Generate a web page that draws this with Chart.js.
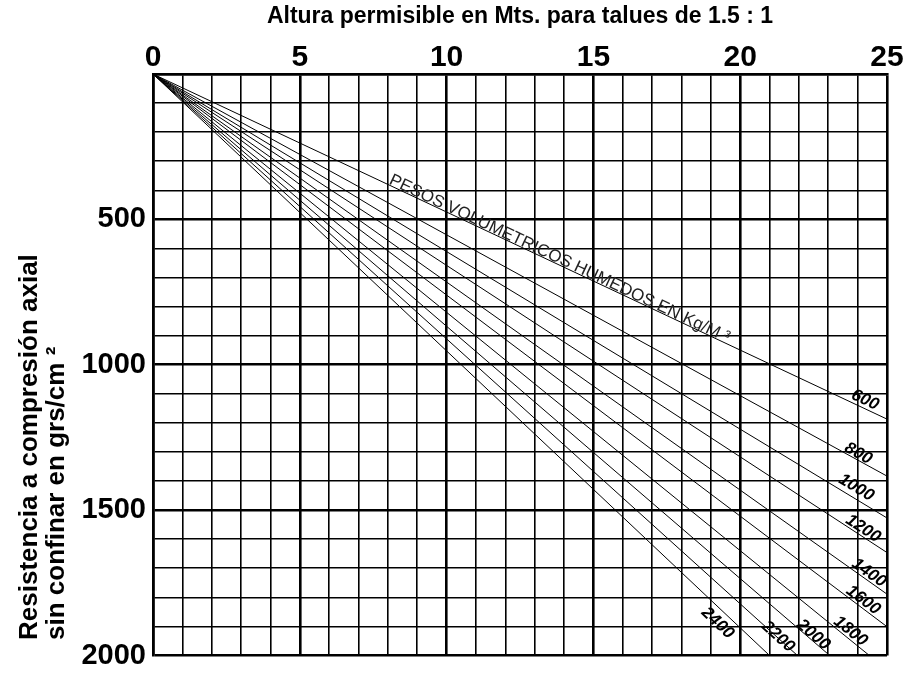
<!DOCTYPE html>
<html>
<head>
<meta charset="utf-8">
<script src="https://cdn.jsdelivr.net/npm/chart.js@4/dist/chart.umd.min.js"></script>
<style>
  html, body { margin: 0; padding: 0; background: #fff; }
  canvas { display: block; }
</style>
</head>
<body>
<canvas id="c" width="917" height="677"></canvas>
<script>
// Wet unit weights (kg/m³) of each line
const densities = ['600', '800', '1000', '1200', '1400', '1600', '1800', '2000', '2200', '2400'];
// Where each line leaves the grid: permissible height (m) and unconfined strength (g/cm²)
const endHeight   = [25, 25, 25, 25, 25, 25, 24.4, 23.05, 21.95, 21.0];
const endStrength = [1187, 1383, 1527, 1646, 1789, 1901, 2000, 2000, 2000, 2000];

const xTickLabels = ['0', '5', '10', '15', '20', '25'];
const yTickLabels = ['500', '1000', '1500', '2000'];

const chartTitle = 'Altura permisible en Mts. para talues de 1.5 : 1';
const yTitleLines = ['Resistencia a compresión axial', 'sin confinar en grs/cm ²'];
const curveNote = 'PESOS VOLUMETRICOS HUMEDOS EN Kg/M ³';

// Placement of each density label: distance back from the line end, and offset to the side (px)
const labelBack = [28, 36, 42, 33, 27, 35, 30, 26, 27, 60];
const labelSide = [8, 6, 10, 7, 7, 7, 7, 5, 1, -12];

const FONT = "Arial, 'Liberation Sans', sans-serif";

const annotate = {
  id: 'annotate',
  afterDatasetsDraw(chart) {
    const { ctx, scales: { x, y } } = chart;
    const x0 = x.getPixelForValue(0), y0 = y.getPixelForValue(0);
    ctx.save();
    ctx.fillStyle = '#000';
    ctx.font = 'italic bold 17px ' + FONT;
    ctx.textAlign = 'center';
    ctx.textBaseline = 'middle';
    densities.forEach((d, i) => {
      const x1 = x.getPixelForValue(endHeight[i]);
      const y1 = y.getPixelForValue(endStrength[i]);
      const len = Math.hypot(x1 - x0, y1 - y0);
      const ux = (x1 - x0) / len, uy = (y1 - y0) / len;
      const nx = uy, ny = -ux;
      const px = x1 - ux * labelBack[i] + nx * labelSide[i];
      const py = y1 - uy * labelBack[i] + ny * labelSide[i];
      ctx.save();
      ctx.translate(px, py);
      ctx.rotate(Math.atan2(uy, ux));
      ctx.fillText(d, 0, 0);
      ctx.restore();
    });

    // note written along the lightest line
    const h = 8.0;
    const nxp = x.getPixelForValue(h);
    const nyp = y.getPixelForValue(h * endStrength[0] / endHeight[0]);
    const ang = Math.atan2(y.getPixelForValue(endStrength[0]) - y0, x.getPixelForValue(endHeight[0]) - x0);
    ctx.save();
    ctx.translate(nxp, nyp);
    ctx.rotate(ang);
    ctx.fillStyle = '#222';
    ctx.font = '17px ' + FONT;
    ctx.textAlign = 'left';
    ctx.textBaseline = 'alphabetic';
    ctx.fillText(curveNote, 0, -1);
    ctx.restore();
    ctx.restore();
  },
  afterDraw(chart) {
    const { ctx } = chart;
    ctx.save();
    ctx.fillStyle = '#000';
    ctx.font = 'bold 26px ' + FONT;
    ctx.textAlign = 'left';
    ctx.textBaseline = 'middle';
    ctx.translate(30, 640);
    ctx.rotate(-Math.PI / 2);
    yTitleLines.forEach((t, i) => ctx.fillText(t, 0, i * 27));
    ctx.restore();
  }
};

const gridWidth = (c) => (c.tick && c.tick.value % 5 === 0) ? 2.6 : 1.6;
const yGridWidth = (c) => (c.tick && c.tick.value % 500 === 0) ? 2.6 : 1.6;

new Chart(document.getElementById('c'), {
  type: 'line',
  data: {
    datasets: densities.map((d, i) => ({
      label: d + ' kg/m³',
      data: [{ x: 0, y: 0 }, { x: endHeight[i], y: endStrength[i] }],
      borderColor: '#000',
      borderWidth: 1,
      pointRadius: 0,
      fill: false,
      tension: 0
    }))
  },
  options: {
    responsive: false,
    animation: false,
    devicePixelRatio: 1,
    layout: { padding: { top: 0, right: 30, bottom: 15, left: 0 } },
    plugins: {
      legend: { display: false },
      tooltip: { enabled: false },
      title: {
        display: true,
        text: chartTitle,
        fullSize: false,
        color: '#000',
        font: { family: FONT, size: 23, weight: 'bold', lineHeight: 1.2 },
        padding: { top: 3, bottom: 0 }
      }
    },
    scales: {
      x: {
        type: 'linear',
        position: 'top',
        min: 0, max: 25,
        ticks: {
          stepSize: 1, autoSkip: false, maxRotation: 0, padding: 1,
          color: '#000',
          font: { family: FONT, size: 30, weight: 'bold', lineHeight: 1 },
          callback: (v) => xTickLabels.includes(String(v)) ? String(v) : ''
        },
        grid: { color: '#000', lineWidth: gridWidth, drawTicks: false },
        border: { color: '#000', width: 2.6 },
        afterFit(s) { s.height = 43.4; }
      },
      y: {
        type: 'linear',
        reverse: true,
        min: 0, max: 2000,
        ticks: {
          stepSize: 100, autoSkip: false, padding: 7,
          color: '#000',
          font: { family: FONT, size: 29, weight: 'bold', lineHeight: 1 },
          callback: (v) => yTickLabels.includes(String(v)) ? String(v) : ''
        },
        grid: { color: '#000', lineWidth: yGridWidth, drawTicks: false },
        border: { color: '#000', width: 2.6 },
        afterFit(s) { s.width = 153; }
      }
    }
  },
  plugins: [annotate]
});
</script>
</body>
</html>
